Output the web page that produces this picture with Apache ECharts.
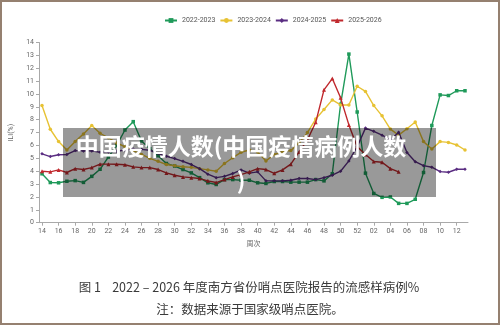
<!DOCTYPE html>
<html>
<head>
<meta charset="utf-8">
<script src="https://cdn.jsdelivr.net/npm/echarts@6/dist/echarts.min.js"></script>
<style>
  html, body { margin: 0; padding: 0; background: #ffffff; }
  #wrap { position: relative; width: 500px; height: 325px; }
  #chart { width: 500px; height: 325px; }
  #frame { position: absolute; left: 0; top: 0; width: 500px; height: 325px; box-sizing: border-box;
           border: 2px solid #958070; pointer-events: none; }
</style>
</head>
<body>
<div id="wrap"><div id="chart"></div><div id="frame"></div></div>
<script>
// Surveillance weeks: week 14 through week 52, then week 01 through week 13
const weeks = ['14','15','16','17','18','19','20','21','22','23','24','25','26','27','28','29','30',
  '31','32','33','34','35','36','37','38','39','40','41','42','43','44','45','46','47','48','49','50',
  '51','52','01','02','03','04','05','06','07','08','09','10','11','12','13'];

const seasonNames = ['2022-2023', '2023-2024', '2024-2025', '2025-2026'];

// ILI percentage per week
const ili2022 = [3.8,3.12,3.1,3.22,3.27,3.13,3.6,4.15,5.1,6.0,7.2,7.85,6.35,5.75,5.2,4.6,4.4,
  4.13,3.87,3.5,3.1,2.97,3.35,3.35,3.3,3.3,3.1,3.05,3.2,3.2,3.15,3.15,3.15,3.35,3.25,3.8,9.2,
  13.1,8.6,3.85,2.27,1.97,2.0,1.5,1.5,1.82,3.9,7.55,9.93,9.88,10.25,10.25];
const ili2023 = [9.1,7.26,6.3,5.65,6.3,6.9,7.55,6.95,6.6,6.2,5.9,5.6,5.3,5.0,4.77,4.52,4.42,
  4.35,4.3,4.2,4.1,4.0,4.6,5.05,5.47,5.65,5.5,4.8,5.3,5.52,5.6,6.2,7.0,8.05,8.8,9.54,9.15,
  9.15,10.6,10.2,9.1,8.3,7.27,6.8,7.3,7.82,6.3,5.73,6.3,6.24,6.04,5.65];
const ili2024 = [5.35,5.14,5.28,5.3,5.6,5.58,5.58,5.47,5.5,5.55,5.65,5.72,5.7,5.63,5.37,5.16,4.98,
  4.77,4.52,4.2,3.77,3.5,3.6,3.82,4.1,3.85,3.95,3.25,3.25,3.25,3.3,3.43,3.43,3.35,3.5,3.69,4.0,
  4.8,5.9,7.35,7.1,6.8,6.43,7.03,5.45,4.74,4.43,4.31,3.97,3.92,4.15,4.15];
const ili2025 = [4.0,3.95,4.1,3.9,4.2,4.13,4.28,4.55,4.55,4.54,4.5,4.34,4.28,4.28,4.13,3.87,3.69,
  3.56,3.5,3.43,3.25,3.12,3.35,3.56,3.74,3.95,4.2,4.13,3.84,4.1,4.55,5.5,6.43,7.8,10.32,11.2,9.7,
  7.6,5.91,5.3,4.76,4.7,4.2,3.95,null,null,null,null,null,null,null,null];

const yTicks = [0, 14, 1]; // min, max, step

const seriesColors = ['#1f9a5a', '#e7c233', '#5a2d82', '#c0282d'];
const seriesSymbols = ['rect', 'circle', 'diamond', 'triangle'];
const seriesData = [ili2022, ili2023, ili2024, ili2025];

const axisGray = '#a9a9a9';
const labelGray = '#666666';

const chart = echarts.init(document.getElementById('chart'), null, { renderer: 'canvas' });

const option = {
  backgroundColor: '#ffffff',
  animation: false,
  legend: {
    top: 12,
    left: 159,
    itemWidth: 12,
    itemHeight: 6,
    itemGap: 4,
    textStyle: { fontSize: 7, color: '#555555', fontFamily: 'Roboto, sans-serif' },
    data: seasonNames
  },
  grid: [
    { left: 42, right: 35, top: 42.5, bottom: 102.3, containLabel: false, outerBoundsMode: 'none' },
    { left: 39, right: 32, top: 42.5, bottom: 102.3, containLabel: false, outerBoundsMode: 'none' }
  ],
  xAxis: [
    {
      type: 'category',
      gridIndex: 0,
      data: weeks,
      boundaryGap: false,
      axisLine: { show: false },
      axisTick: { show: true, interval: 1, length: 3, lineStyle: { color: axisGray } },
      axisLabel: { interval: 1, margin: 5, fontSize: 7, color: labelGray, fontFamily: 'Roboto, sans-serif' },
      splitLine: { show: false },
      name: '周次',
      nameLocation: 'middle',
      nameGap: 17,
      nameTextStyle: { fontSize: 7, color: labelGray, fontFamily: '"Noto Sans CJK SC", sans-serif' }
    },
    {
      type: 'value',
      gridIndex: 1,
      min: 0,
      max: 1,
      axisLine: { show: true, lineStyle: { color: axisGray, width: 1 } },
      axisTick: { show: false },
      axisLabel: { show: false },
      splitLine: { show: false }
    }
  ],
  yAxis: [
    {
      type: 'value',
      gridIndex: 0,
      min: yTicks[0],
      max: yTicks[1],
      interval: yTicks[2],
      show: false
    },
    {
      type: 'value',
      gridIndex: 1,
      min: yTicks[0],
      max: yTicks[1],
      interval: yTicks[2],
      axisLine: { show: true, lineStyle: { color: axisGray, width: 1 } },
      axisTick: { show: true, length: 3, lineStyle: { color: axisGray } },
      axisLabel: { margin: 5, fontSize: 7, color: labelGray, fontFamily: 'Roboto, sans-serif' },
      splitLine: { show: false },
      name: 'ILI(%)',
      nameLocation: 'middle',
      nameRotate: 90,
      nameGap: 22,
      nameTextStyle: { fontSize: 7, color: labelGray, fontFamily: 'Roboto, sans-serif' }
    }
  ],
  series: seasonNames.map((name, i) => ({
    name: name,
    type: 'line',
    xAxisIndex: 0,
    yAxisIndex: 0,
    data: seriesData[i],
    symbol: seriesSymbols[i],
    symbolSize: seriesSymbols[i] === 'triangle' ? 4 : 3.5,
    showSymbol: true,
    connectNulls: false,
    color: seriesColors[i],
    lineStyle: { width: 1.4, color: seriesColors[i] },
    itemStyle: { color: seriesColors[i] },
    z: 2 + i
  })),
  graphic: [
    {
      type: 'rect',
      z: 100,
      shape: { x: 63, y: 128, width: 373, height: 69 },
      style: { fill: 'rgba(0,0,0,0.4)' }
    },
    {
      type: 'text',
      z: 101,
      x: 241,
      y: 163,
      style: {
        text: '中国疫情人数(中国疫情病例人数\n)',
        fill: '#ffffff',
        font: 'bold 23px "Noto Sans CJK SC", sans-serif',
        align: 'center',
        verticalAlign: 'middle',
        lineHeight: 34,
        shadowColor: 'rgba(0,0,0,0.3)',
        shadowBlur: 2
      }
    },
    {
      type: 'text',
      z: 50,
      x: 249,
      y: 287,
      style: {
        text: '图 1    2022 – 2026 年度南方省份哨点医院报告的流感样病例%',
        fill: '#3a3a3a',
        font: '12.5px "Noto Sans CJK SC", sans-serif',
        align: 'center',
        verticalAlign: 'middle'
      }
    },
    {
      type: 'text',
      z: 50,
      x: 250,
      y: 309,
      style: {
        text: '注：数据来源于国家级哨点医院。',
        fill: '#3a3a3a',
        font: '12.5px "Noto Sans CJK SC", sans-serif',
        align: 'center',
        verticalAlign: 'middle'
      }
    }
  ]
};

chart.setOption(option);
</script>
</body>
</html>
